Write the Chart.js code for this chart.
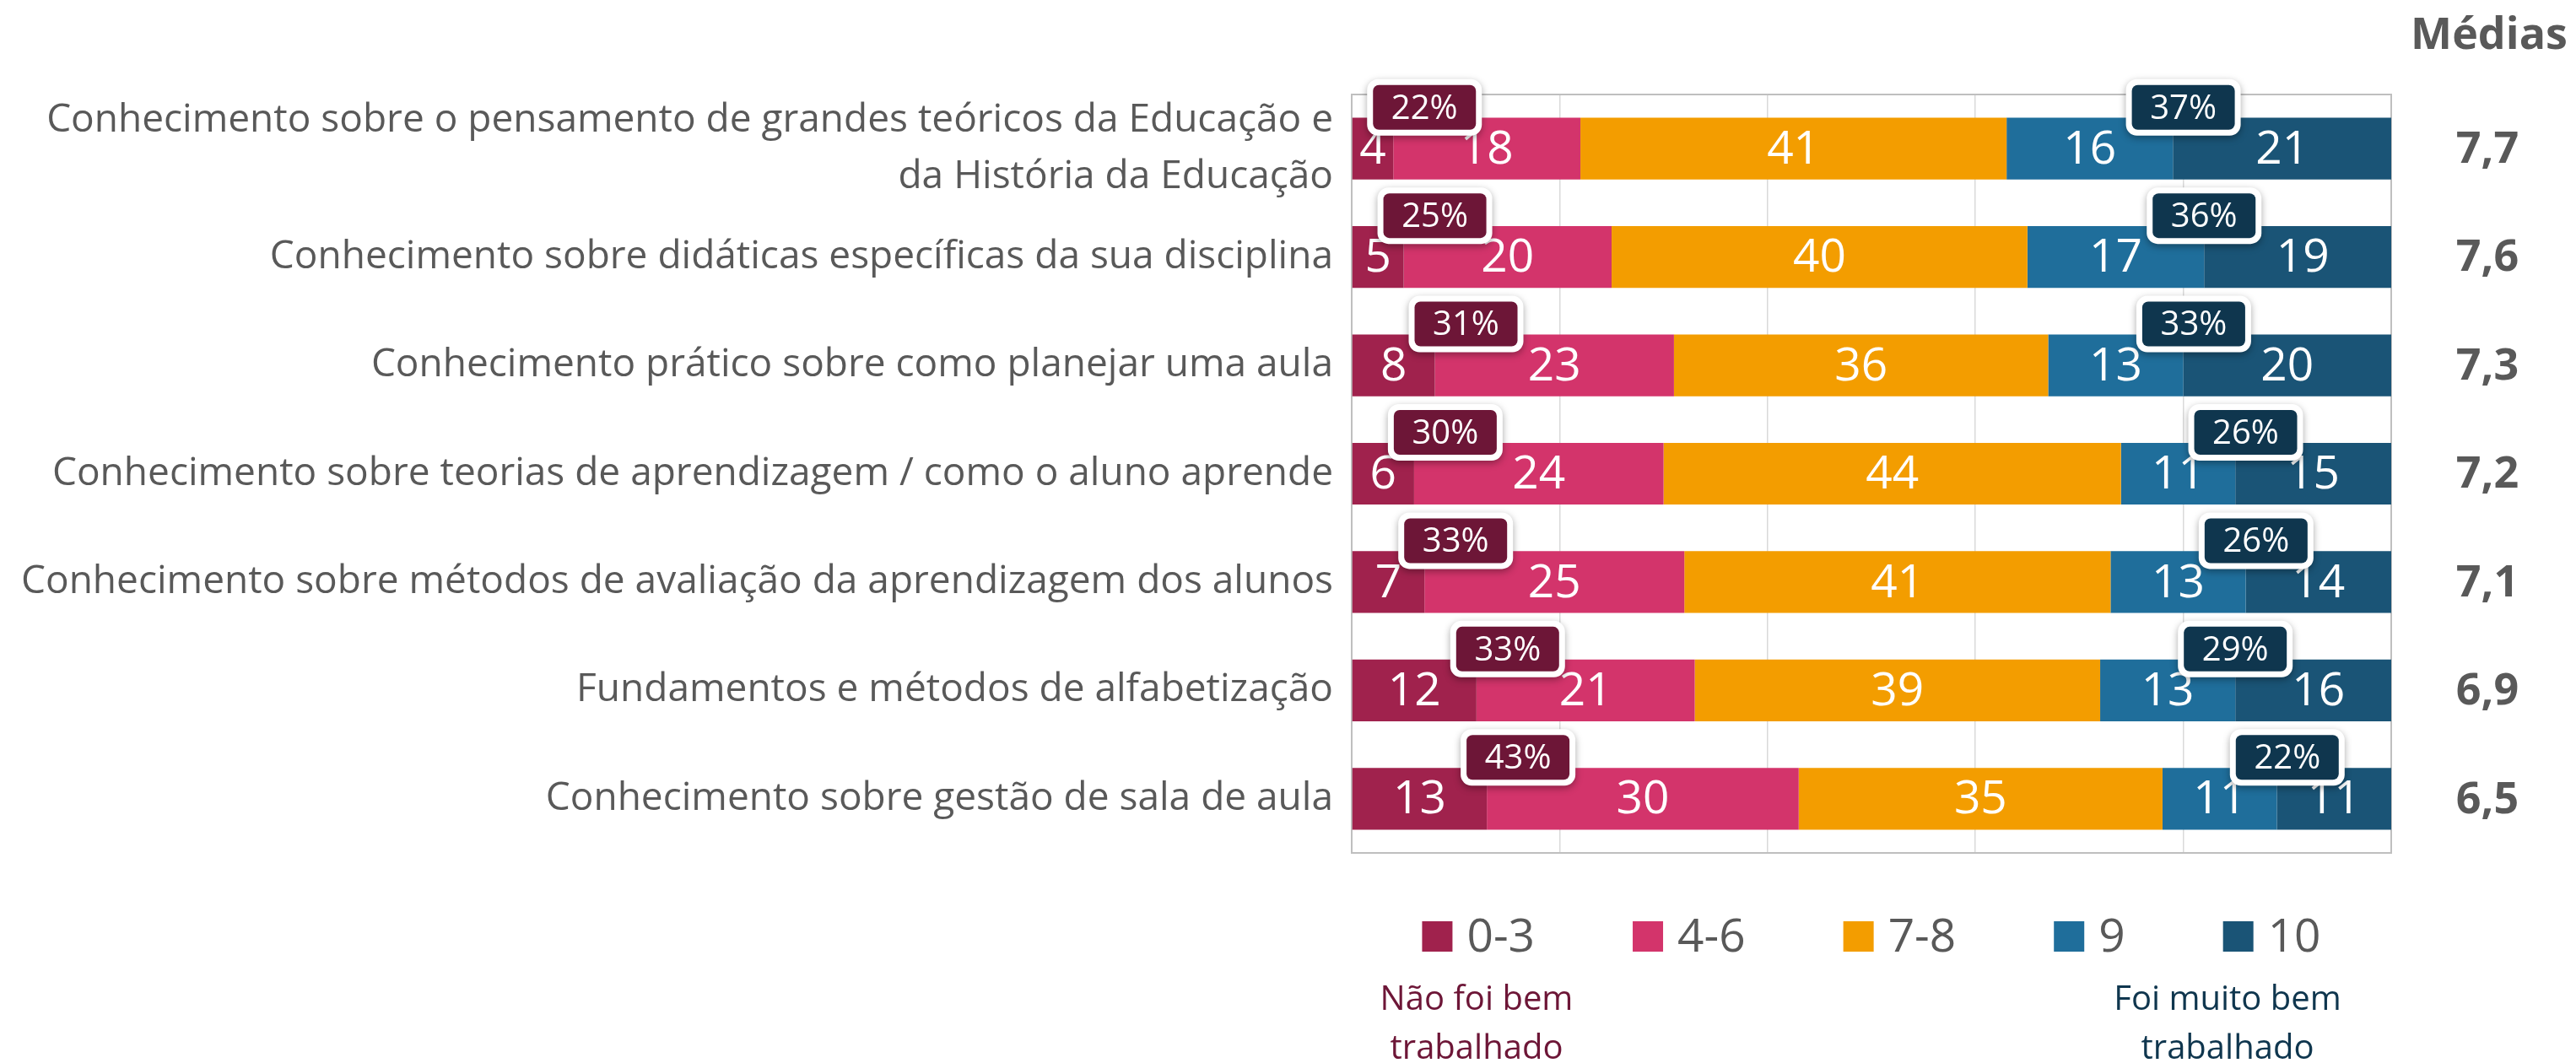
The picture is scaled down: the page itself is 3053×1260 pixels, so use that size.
<!DOCTYPE html>
<html lang="pt-BR">
<head>
<meta charset="UTF-8">
<title>Avaliação da formação</title>
<script src="https://cdn.jsdelivr.net/npm/chart.js"></script>
<style>
  body { margin: 0; background: #fff; }
  #wrap { width: 3053px; height: 1260px; }
</style>
</head>
<body>
<div id="wrap"><canvas id="chart" width="3053" height="1260"></canvas></div>
<script>
// categorias (eixo y)
const categories = [
  ['Conhecimento sobre o pensamento de grandes teóricos da Educação e', 'da História da Educação'],
  'Conhecimento sobre didáticas específicas da sua disciplina',
  'Conhecimento prático sobre como planejar uma aula',
  'Conhecimento sobre teorias de aprendizagem / como o aluno aprende',
  'Conhecimento sobre métodos de avaliação da aprendizagem dos alunos',
  'Fundamentos e métodos de alfabetização',
  'Conhecimento sobre gestão de sala de aula'
];
const seriesNames = ['0-3', '4-6', '7-8', '9', '10'];
const v03 = [4, 5, 8, 6, 7, 12, 13];
const v46 = [18, 20, 23, 24, 25, 21, 30];
const v78 = [41, 40, 36, 44, 41, 39, 35];
const v9  = [16, 17, 13, 11, 13, 13, 11];
const v10 = [21, 19, 20, 15, 14, 16, 11];
// caixas de destaque
const lowPct  = [22, 25, 31, 30, 33, 33, 43];
const highPct = [37, 36, 33, 26, 26, 29, 22];
const medias = [7.7, 7.6, 7.3, 7.2, 7.1, 6.9, 6.5];

const colors = ['#a0224d', '#d3346b', '#f39d00', '#1f6e9b', '#1a5476'];
const lowBox = '#6d1637';
const highBox = '#0f364e';
const gray = '#595959';
const FONT = "'Open Sans', 'Noto Sans', sans-serif";

function callout(ctx, cx, cy, text, fill) {
  const w = 122, h = 53, b = 7;
  ctx.save();
  ctx.shadowColor = 'rgba(0,0,0,0.35)';
  ctx.shadowBlur = 8;
  ctx.shadowOffsetY = 3;
  ctx.fillStyle = '#fff';
  ctx.beginPath();
  ctx.roundRect(cx - w / 2 - b, cy - h / 2 - b, w + 2 * b, h + 2 * b, 13);
  ctx.fill();
  ctx.restore();
  ctx.fillStyle = fill;
  ctx.beginPath();
  ctx.roundRect(cx - w / 2, cy - h / 2, w, h, 7);
  ctx.fill();
  ctx.fillStyle = '#fff';
  ctx.font = '40px ' + FONT;
  ctx.textAlign = 'center';
  ctx.textBaseline = 'middle';
  ctx.fillText(text, cx, cy + 2);
}

const extras = {
  id: 'extras',
  beforeDatasetsDraw(chart) {
    const {ctx, chartArea: a} = chart;
    ctx.save();
    ctx.strokeStyle = '#bfbfbf';
    ctx.lineWidth = 2;
    ctx.strokeRect(a.left, a.top, a.right - a.left, a.bottom - a.top);
    ctx.restore();
  },
  afterDatasetsDraw(chart) {
    const {ctx, chartArea: a} = chart;
    const xs = chart.scales.x, ys = chart.scales.y;
    ctx.save();

    // valores dentro das barras
    ctx.fillStyle = '#fff';
    ctx.font = '55px ' + FONT;
    ctx.textAlign = 'center';
    ctx.textBaseline = 'middle';
    chart.data.datasets.forEach((ds, di) => {
      chart.getDatasetMeta(di).data.forEach((bar, i) => {
        const p = bar.getProps(['x', 'y', 'base'], true);
        ctx.fillText(ds.data[i], (p.x + p.base) / 2, p.y + 2);
      });
    });

    // caixas com percentuais
    categories.forEach((c, i) => {
      const y = ys.getPixelForValue(i) - 49;
      callout(ctx, xs.getPixelForValue(v03[i] + 3), y, lowPct[i] + '%', lowBox);
      callout(ctx, xs.getPixelForValue(100 - v10[i] + 1), y, highPct[i] + '%', highBox);
    });

    // médias
    ctx.fillStyle = gray;
    ctx.font = 'bold 52px ' + FONT;
    ctx.textAlign = 'center';
    ctx.fillText('Médias', 2950, 43);
    medias.forEach((m, i) => {
      ctx.fillText(m.toFixed(1).replace('.', ','), 2948, ys.getPixelForValue(i) + 2);
    });

    // legenda
    ctx.font = '55px ' + FONT;
    ctx.textAlign = 'left';
    const box = 36, gap = 17, space = 116, ly = 1110;
    const widths = seriesNames.map(s => box + gap + ctx.measureText(s).width);
    const total = widths.reduce((s, w) => s + w, 0) + space * (widths.length - 1);
    let lx = (a.left + a.right) / 2 - total / 2;
    seriesNames.forEach((s, i) => {
      ctx.fillStyle = colors[i];
      ctx.fillRect(lx, ly - box / 2, box, box);
      ctx.fillStyle = gray;
      ctx.fillText(s, lx + box + gap, ly + 2);
      lx += widths[i] + space;
    });

    // notas
    ctx.font = '40px ' + FONT;
    ctx.textAlign = 'center';
    ctx.fillStyle = lowBox;
    ctx.fillText('Não foi bem', a.left + 148, 1186);
    ctx.fillText('trabalhado', a.left + 148, 1244);
    ctx.fillStyle = highBox;
    ctx.fillText('Foi muito bem', a.left + 1038, 1186);
    ctx.fillText('trabalhado', a.left + 1038, 1244);
    ctx.restore();
  }
};

const series = [v03, v46, v78, v9, v10];

new Chart(document.getElementById('chart'), {
  type: 'bar',
  data: {
    labels: categories,
    datasets: series.map((d, i) => ({
      label: seriesNames[i],
      data: d,
      backgroundColor: colors[i],
      borderWidth: 0,
      barPercentage: 0.57,
      categoryPercentage: 1
    }))
  },
  options: {
    indexAxis: 'y',
    responsive: false,
    animation: false,
    layout: { padding: { top: 112, right: 219, bottom: 249, left: 0 } },
    plugins: { legend: { display: false }, tooltip: { enabled: false } },
    scales: {
      x: {
        stacked: true,
        min: 0,
        max: 100,
        ticks: { display: false, stepSize: 20 },
        grid: { color: '#d9d9d9', lineWidth: 1.5, drawTicks: false },
        border: { display: false }
      },
      y: {
        stacked: true,
        afterFit(scale) { scale.width = 1602; },
        ticks: {
          color: gray,
          padding: 22,
          autoSkip: false,
          font: { family: FONT, size: 46, lineHeight: 1.45 }
        },
        grid: { display: false, drawTicks: false },
        border: { display: false }
      }
    }
  },
  plugins: [extras]
});
</script>
</body>
</html>
